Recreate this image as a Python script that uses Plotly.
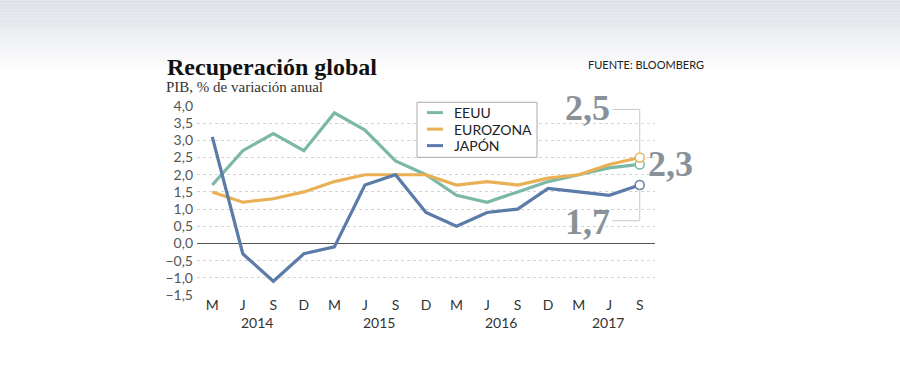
import plotly.graph_objects as go

months = ["M", "J", "S", "D", "M", "J", "S", "D", "M", "J", "S", "D", "M", "J", "S"]
years = ["2014", "2015", "2016", "2017"]
year_pos = [1.45, 5.45, 9.45, 12.95]
eeuu = [1.7, 2.7, 3.2, 2.7, 3.8, 3.3, 2.4, 2.0, 1.4, 1.2, 1.5, 1.8, 2.0, 2.2, 2.3]
eurozona = [1.5, 1.2, 1.3, 1.5, 1.8, 2.0, 2.0, 2.0, 1.7, 1.8, 1.7, 1.9, 2.0, 2.3, 2.5]
japon = [3.1, -0.3, -1.1, -0.3, -0.1, 1.7, 2.0, 0.9, 0.5, 0.9, 1.0, 1.6, 1.5, 1.4, 1.7]
series_names = ["EEUU", "EUROZONA", "JAPÓN"]
y_ticks = [-1.5, -1.0, -0.5, 0.0, 0.5, 1.0, 1.5, 2.0, 2.5, 3.0, 3.5, 4.0]
y_ticktext = ["−1,5", "−1,0", "−0,5", "0,0", "0,5", "1,0", "1,5", "2,0", "2,5", "3,0", "3,5", "4,0"]

x = list(range(len(months)))
C_US = "#7bb8a5"
C_EU = "#eab056"
C_JP = "#5b7ba8"
colors = [C_US, C_EU, C_JP]
SANS = "Lato, 'Open Sans', sans-serif"
SERIF = "'Liberation Serif', 'DejaVu Serif', serif"

# pixel -> paper helpers (plot area: x 197..655, y 105.7..294.7)
PL, PW, PB, PH = 197.0, 458.0, 294.7, 189.0
def px(v):
    return (v - PL) / PW
def py(v):
    return (PB - v) / PH

fig = go.Figure()
for name, ys, col in zip(series_names, [eeuu, eurozona, japon], colors):
    fig.add_trace(go.Scatter(x=x, y=ys, mode="lines", name=name, showlegend=False,
                             line=dict(color=col, width=3.2)))
for ys, col in zip([eeuu, eurozona, japon], colors):
    fig.add_trace(go.Scatter(x=[x[-1]], y=[ys[-1]], mode="markers", showlegend=False,
                             marker=dict(size=9, color="white", line=dict(color=col, width=1.5))))

# top gradient background
shapes = []
n = 24
top_px, bot_px = 0, 74
for i in range(n):
    y0 = top_px + (bot_px - top_px) * i / n
    y1 = top_px + (bot_px - top_px) * (i + 1) / n
    t = i / (n - 1)
    r = int(221 + (255 - 221) * t)
    g = int(225 + (255 - 225) * t)
    b = int(230 + (255 - 230) * t)
    shapes.append(dict(type="rect", xref="paper", yref="paper", layer="below",
                       x0=px(-5), x1=px(905), y0=py(y1), y1=py(y0),
                       fillcolor=f"rgb({r},{g},{b})", line=dict(width=0)))

# connector lines
lc = "#c9c9c9"
shapes.append(dict(type="line", xref="x", yref="y", x0=13.1, x1=14, y0=3.9, y1=3.9, line=dict(color=lc, width=1)))
shapes.append(dict(type="line", xref="x", yref="y", x0=14, x1=14, y0=3.9, y1=2.62, line=dict(color=lc, width=1)))
shapes.append(dict(type="line", xref="x", yref="y", x0=13.1, x1=14, y0=0.66, y1=0.66, line=dict(color=lc, width=1)))
shapes.append(dict(type="line", xref="x", yref="y", x0=14, x1=14, y0=0.66, y1=1.58, line=dict(color=lc, width=1)))

# manual legend box
shapes.append(dict(type="rect", xref="paper", yref="paper", x0=px(417), x1=px(537), y0=py(157), y1=py(102),
                   fillcolor="white", line=dict(color="#aaaaaa", width=1), layer="above"))
annotations = []
for i, (name, col) in enumerate(zip(series_names, colors)):
    yy = 112.3 + i * 16.5
    shapes.append(dict(type="line", xref="paper", yref="paper", x0=px(427), x1=px(443), y0=py(yy), y1=py(yy),
                       line=dict(color=col, width=3), layer="above"))
    annotations.append(dict(x=px(452), y=py(yy), xref="paper", yref="paper", text=name, showarrow=False,
                            font=dict(family=SANS, size=14, color="#222"), xanchor="left", yanchor="middle"))

for yr, xp in zip(years, year_pos):
    annotations.append(dict(x=xp, y=py(322), xref="x", yref="paper", text=yr, showarrow=False,
                            font=dict(family=SANS, size=14, color="#333"), xanchor="center", yanchor="middle"))
big = dict(family=SERIF, size=36, color="#8a9299")
annotations.append(dict(x=13.08, y=3.95, xref="x", yref="y", text="<b>2,5</b>", showarrow=False,
                        font=big, xanchor="right", yanchor="middle"))
annotations.append(dict(x=14.2, y=2.3, xref="x", yref="y", text="<b>2,3</b>", showarrow=False,
                        font=big, xanchor="left", yanchor="middle"))
annotations.append(dict(x=13.08, y=0.62, xref="x", yref="y", text="<b>1,7</b>", showarrow=False,
                        font=big, xanchor="right", yanchor="middle"))
annotations.append(dict(x=px(165), y=py(67), xref="paper", yref="paper",
                        text="<b>Recuperación global</b>", showarrow=False,
                        font=dict(family=SERIF, size=24, color="#111"), xanchor="left", yanchor="middle"))
annotations.append(dict(x=px(164), y=py(87), xref="paper", yref="paper",
                        text="PIB, % de variación anual", showarrow=False,
                        font=dict(family=SERIF, size=15, color="#333"), xanchor="left", yanchor="middle"))
annotations.append(dict(x=px(706), y=py(64), xref="paper", yref="paper",
                        text="FUENTE: BLOOMBERG", showarrow=False,
                        font=dict(family=SANS, size=11, color="#222"), xanchor="right", yanchor="middle"))

fig.update_layout(
    width=900, height=378,
    margin=dict(l=197, r=245, t=105.7, b=83.3),
    paper_bgcolor="white", plot_bgcolor="rgba(0,0,0,0)",
    shapes=shapes, annotations=annotations,
    showlegend=False,
    xaxis=dict(range=[-0.5, 14.5], tickvals=x, ticktext=months, showgrid=False, zeroline=False,
               showline=False, ticks="", tickfont=dict(family=SANS, size=14, color="#333"), fixedrange=True),
    yaxis=dict(range=[-1.5, 4.0], tickvals=y_ticks, ticktext=y_ticktext, showgrid=True,
               gridcolor="#d4d4d4", griddash="dot", gridwidth=1,
               zeroline=True, zerolinecolor="#555", zerolinewidth=1, showline=False, ticks="",
               ticklabelstandoff=3,
               tickfont=dict(family=SANS, size=14, color="#555"), fixedrange=True),
)
fig.write_html("out.html", config={"displayModeBar": False},
               post_script="document.body.style.margin='0';")
